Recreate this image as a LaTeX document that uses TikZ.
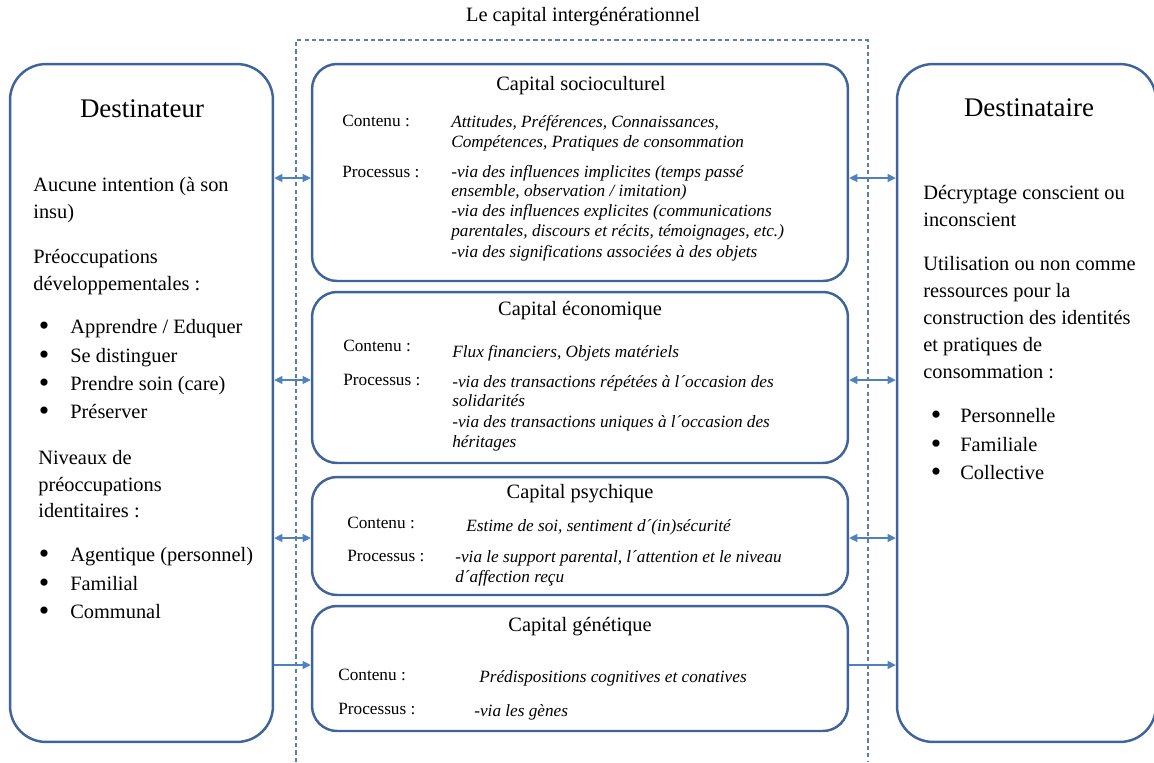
\documentclass[tikz,border=0pt]{standalone}
\usepackage{fontspec}
\setmainfont{Liberation Serif}
\usetikzlibrary{arrows.meta}
\definecolor{boxblue}{RGB}{62,100,155}
\definecolor{arrowblue}{RGB}{79,129,189}
\definecolor{frameblue}{RGB}{92,125,176}
\tikzset{
  bigbox/.style={draw=boxblue, line width=1.4pt, rectangle, rounded corners=0.72cm, inner sep=0},
  capbox/.style={draw=boxblue, line width=1.4pt, rectangle, rounded corners=0.5cm, inner sep=0, minimum width=10.72cm},
  flow/.style={draw=arrowblue, line width=0.8pt, >={Triangle[length=4.6pt,width=4.4pt]}},
  frame/.style={draw=frameblue, line width=0.6pt, dash pattern=on 2.4pt off 1.8pt},
  head/.style={font=\fontsize{15.3}{18}\selectfont, anchor=mid, inner sep=0},
  ctitle/.style={font=\fontsize{11.6}{14}\selectfont, anchor=mid, inner sep=0},
  body/.style={font=\fontsize{11.6}{14}\selectfont, anchor=mid west, inner sep=0},
  bul/.style={font=\fontsize{17}{17}\selectfont, anchor=center, inner sep=0},
  lab/.style={font=\fontsize{9.8}{12}\selectfont, anchor=mid west, inner sep=0},
  itl/.style={font=\fontsize{9.8}{12}\selectfont\itshape, anchor=mid west, inner sep=0}
}
\begin{document}
\begin{tikzpicture}[x=0.02cm, y=-0.02cm]
\useasboundingbox (0,0) rectangle (1154,762);

% cadre du capital
\draw[frame] (296,762) -- (296,40) -- (868,40) -- (868,762);
\node[ctitle] (maintitle) at (583,17) {Le capital intergénérationnel};

% boites
\node[bigbox, minimum width=5.26cm, minimum height=13.56cm] (dest) at (141.5,403) {};
\node[bigbox, minimum width=5.18cm, minimum height=13.56cm] (dtaire) at (1026.5,403) {};
\node[capbox, minimum height=4.34cm] (socio) at (580,172.5) {};
\node[capbox, minimum height=3.42cm] (eco) at (580,377.5) {};
\node[capbox, minimum height=2.36cm] (psy) at (580,536) {};
\node[capbox, minimum height=2.5cm] (gen) at (580,668.5) {};

% fleches
\draw[flow,<->] (dest.east |- 0,178) -- (socio.west |- 0,178);
\draw[flow,<->] (dest.east |- 0,380) -- (eco.west |- 0,380);
\draw[flow,<->] (dest.east |- 0,538) -- (psy.west |- 0,538);
\draw[flow,->] (dest.east |- 0,665) -- (gen.west |- 0,665);
\draw[flow,<->] (socio.east |- 0,178) -- (dtaire.west |- 0,178);
\draw[flow,<->] (eco.east |- 0,380) -- (dtaire.west |- 0,380);
\draw[flow,<->] (psy.east |- 0,538) -- (dtaire.west |- 0,538);
\draw[flow,->] (gen.east |- 0,665) -- (dtaire.west |- 0,665);

% destinateur
\node[head] (destT) at (142,113) {Destinateur};
\node[body] (d1) at (33,187) {Aucune intention (à son};
\node[body] (d2) at (33,214) {insu)};
\node[body] (d3) at (33,259) {Préoccupations};
\node[body] (d4) at (33,286) {développementales :};
\node[bul] (db1) at (44,329) {\textbullet};
\node[body] (d5) at (70,329) {Apprendre / Eduquer};
\node[bul] (db2) at (44,358) {\textbullet};
\node[body] (d6) at (70,358) {Se distinguer};
\node[bul] (db3) at (44,386) {\textbullet};
\node[body] (d7) at (70,386) {Prendre soin (care)};
\node[bul] (db4) at (44,414) {\textbullet};
\node[body] (d8) at (70,414) {Préserver};
\node[body] (d9) at (38,460) {Niveaux de};
\node[body] (d10) at (38,487) {préoccupations};
\node[body] (d11) at (38,513) {identitaires :};
\node[bul] (db5) at (44,557) {\textbullet};
\node[body] (d12) at (70,557) {Agentique (personnel)};
\node[bul] (db6) at (44,586) {\textbullet};
\node[body] (d13) at (70,586) {Familial};
\node[bul] (db7) at (44,614) {\textbullet};
\node[body] (d14) at (70,614) {Communal};

% destinataire
\node[head] (dtT) at (1029,112) {Destinataire};
\node[body] (t1) at (923,195) {Décryptage conscient ou};
\node[body] (t2) at (923,222) {inconscient};
\node[body] (t3) at (923,266) {Utilisation ou non comme};
\node[body] (t4) at (923,293) {ressources pour la};
\node[body] (t5) at (923,320) {construction des identités};
\node[body] (t6) at (923,347) {et pratiques de};
\node[body] (t7) at (923,374) {consommation :};
\node[bul] (tb1) at (936,418) {\textbullet};
\node[body] (t8) at (960,418) {Personnelle};
\node[bul] (tb2) at (936,447) {\textbullet};
\node[body] (t9) at (960,447) {Familiale};
\node[bul] (tb3) at (936,475) {\textbullet};
\node[body] (t10) at (960,475) {Collective};

% capital socioculturel
\node[ctitle] (socioT) at (581,86) {Capital socioculturel};
\node[lab] (s1) at (342,122) {Contenu :};
\node[itl] (s2) at (451,123) {Attitudes, Préférences, Connaissances,};
\node[itl] (s3) at (451,143) {Compétences, Pratiques de consommation};
\node[lab] (s4) at (342,173) {Processus :};
\node[itl] (s5) at (451,173) {-via des influences implicites (temps passé};
\node[itl] (s6) at (451,192) {ensemble, observation / imitation)};
\node[itl] (s7) at (451,212) {-via des influences explicites (communications};
\node[itl] (s8) at (451,232) {parentales, discours et récits, témoignages, etc.)};
\node[itl] (s9) at (451,253) {-via des significations associées à des objets};

% capital economique
\node[ctitle] (ecoT) at (580,311) {Capital économique};
\node[lab] (e1) at (343,347) {Contenu :};
\node[itl] (e2) at (452,353) {Flux financiers, Objets matériels};
\node[lab] (e3) at (343,381) {Processus :};
\node[itl] (e4) at (452,383) {-via des transactions répétées à l´occasion des};
\node[itl] (e5) at (452,402) {solidarités};
\node[itl] (e6) at (452,423) {-via des transactions uniques à l´occasion des};
\node[itl] (e7) at (452,443) {héritages};

% capital psychique
\node[ctitle] (psyT) at (580,494) {Capital psychique};
\node[lab] (p1) at (347,524) {Contenu :};
\node[itl] (p2) at (466,527) {Estime de soi, sentiment d´(in)sécurité};
\node[lab] (p3) at (347,557) {Processus :};
\node[itl] (p4) at (455,558) {-via le support parental, l´attention et le niveau};
\node[itl] (p5) at (455,578) {d´affection reçu};

% capital genetique
\node[ctitle] (genT) at (580,627) {Capital génétique};
\node[lab] (g1) at (338,676) {Contenu :};
\node[itl] (g2) at (479,678) {Prédispositions cognitives et conatives};
\node[lab] (g3) at (338,710) {Processus :};
\node[itl] (g4) at (474,712) {-via les gènes};

\end{tikzpicture}
\end{document}
